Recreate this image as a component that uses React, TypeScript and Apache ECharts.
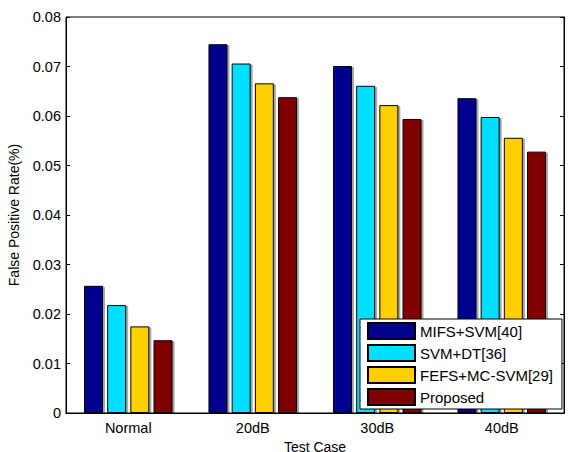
import React, { useEffect, useRef } from "react";
import * as echarts from "echarts";

const categories = ["Normal", "20dB", "30dB", "40dB"];
const seriesNames = ["MIFS+SVM[40]", "SVM+DT[36]", "FEFS+MC-SVM[29]", "Proposed"];
const mifsSvm = [0.0257, 0.0745, 0.0701, 0.0636];
const svmDt = [0.0218, 0.0706, 0.0661, 0.0598];
const fefsMcSvm = [0.0175, 0.0666, 0.0622, 0.0556];
const proposed = [0.0147, 0.0638, 0.0594, 0.0528];
const colors = ["#00008F", "#00DFFF", "#FFCF00", "#800000"];

export default function App() {
  const ref = useRef<HTMLDivElement>(null);
  useEffect(() => {
    if (!ref.current) return;
    const chart = echarts.init(ref.current, null, { renderer: "svg", width: 568, height: 452 });
    const font = "Liberation Sans, Arial, sans-serif";
    const data = [mifsSvm, svmDt, fefsMcSvm, proposed];
    chart.setOption({
      animation: false,
      textStyle: { fontFamily: font, color: "#000" },
      grid: {
        left: 66,
        right: 4,
        top: 17,
        bottom: 39,
        outerBoundsMode: "none",
        containLabel: false,
        show: true,
        borderColor: "#000",
        borderWidth: 1,
      },
      legend: {
        orient: "vertical",
        left: 360,
        top: 319,
        padding: [3, 9, 3, 7],
        itemWidth: 47,
        itemHeight: 16,
        itemGap: 4,
        backgroundColor: "#fff",
        borderColor: "#000",
        borderWidth: 1,
        icon: "rect",
        textStyle: { fontFamily: font, fontSize: 15, color: "#000" },
        data: seriesNames,
      },
      xAxis: [
        {
          type: "category",
          data: categories,
          name: "Test Case",
          nameLocation: "middle",
          nameGap: 22,
          nameTextStyle: { fontFamily: font, fontSize: 14, lineHeight: 14, color: "#000" },
          axisLine: { lineStyle: { color: "#000" } },
          axisTick: { inside: true, alignWithLabel: true, length: 4, lineStyle: { color: "#000" } },
          axisLabel: { fontFamily: font, fontSize: 14.5, color: "#000", margin: 7 },
        },
        {
          type: "category",
          data: categories,
          position: "top",
          axisLine: { lineStyle: { color: "#000" } },
          axisTick: { inside: true, alignWithLabel: true, length: 4, lineStyle: { color: "#000" } },
          axisLabel: { show: false },
        },
      ],
      yAxis: [
        {
          type: "value",
          min: 0,
          max: 0.08,
          interval: 0.01,
          name: "False Positive Rate(%)",
          nameLocation: "middle",
          nameGap: 45,
          nameTextStyle: { fontFamily: font, fontSize: 14, color: "#000" },
          axisLine: { show: true, lineStyle: { color: "#000" } },
          axisTick: { show: true, inside: true, length: 4, lineStyle: { color: "#000" } },
          splitLine: { show: false },
          axisLabel: {
            fontFamily: font,
            fontSize: 14.5,
            color: "#000",
            margin: 5,
            formatter: (v: number) => (v === 0 ? "0" : v.toFixed(2)),
          },
        },
        {
          type: "value",
          min: 0,
          max: 0.08,
          interval: 0.01,
          position: "right",
          axisLine: { show: true, lineStyle: { color: "#000" } },
          axisTick: { show: true, inside: true, length: 4, lineStyle: { color: "#000" } },
          splitLine: { show: false },
          axisLabel: { show: false },
        },
      ],
      series: seriesNames.map((name, i) => ({
        name,
        type: "bar",
        data: data[i],
        barWidth: 19,
        barGap: "22%",
        itemStyle: {
          color: colors[i],
          borderColor: "#000",
          borderWidth: 1,
          shadowColor: "rgba(0,0,0,0.35)",
          shadowOffsetX: 2,
          shadowOffsetY: 1,
          shadowBlur: 0,
        },
      })),
    });
    return () => chart.dispose();
  }, []);
  return (
    <div
      ref={ref}
      style={{ position: "fixed", left: 0, top: 0, width: 568, height: 452, background: "#fff" }}
    />
  );
}
